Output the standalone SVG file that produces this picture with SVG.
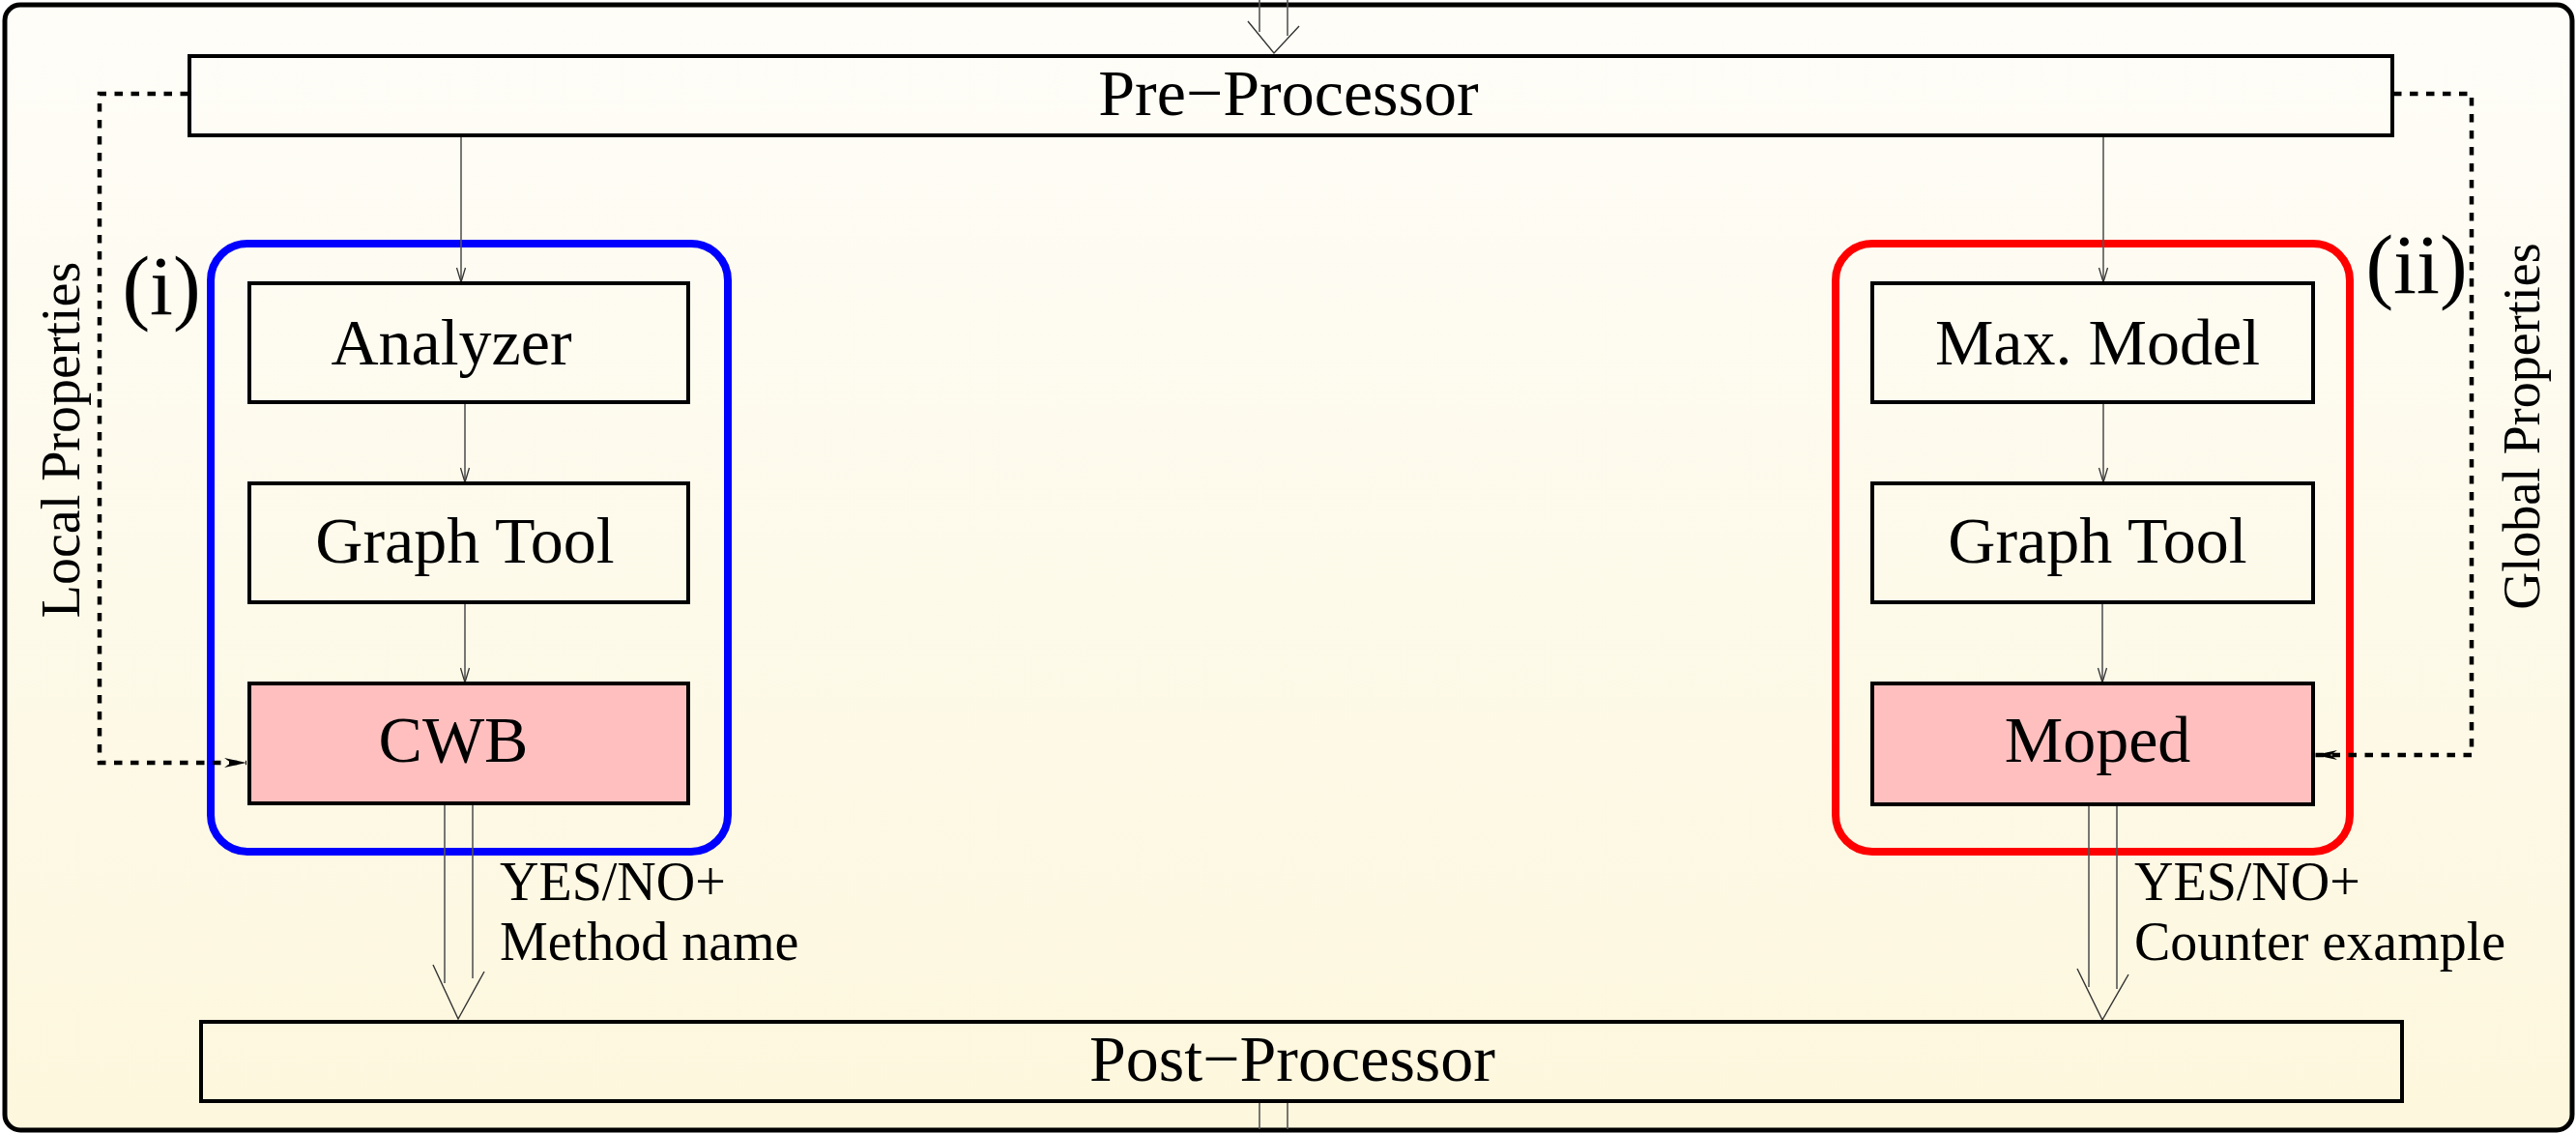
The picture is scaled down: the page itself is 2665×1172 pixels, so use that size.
<svg xmlns="http://www.w3.org/2000/svg" width="2665" height="1172" viewBox="0 0 2665 1172">
<style>
.box{fill:none;stroke:#000;stroke-width:4}
.hot{fill:#ffbfbf;stroke:#000;stroke-width:4}
.lbl{font-family:"Liberation Serif","Times New Roman",serif;fill:#000}
.thin{fill:none;stroke:#555;stroke-width:1.6}
.head{fill:none;stroke:#333;stroke-width:1.4}
.dash{fill:none;stroke:#000;stroke-width:4.5;stroke-dasharray:8.5 8.5}
</style>
<defs>
<linearGradient id="bg" x1="0" y1="0" x2="0" y2="1">
<stop offset="0" stop-color="#fefdf8"/>
<stop offset="1" stop-color="#fdf7dd"/>
</linearGradient>
<marker id="v" markerUnits="userSpaceOnUse" markerWidth="20" markerHeight="12" viewBox="-17 -6 19 12" refX="0" refY="0" orient="auto">
<path d="M-15,-4.5 L0,0 L-15,4.5" fill="none" stroke="#333" stroke-width="1.3"/>
</marker>
<marker id="fa" markerUnits="userSpaceOnUse" markerWidth="26" markerHeight="14" viewBox="-24 -7 26 14" refX="0" refY="0" orient="auto">
<path d="M0,0 L-23,-5 L-16,0 L-23,5 Z" fill="#000" stroke="none"/>
</marker>
</defs>

<rect id="frame" x="5" y="5" width="2656" height="1164" rx="16" fill="url(#bg)" stroke="#000" stroke-width="5"/>

<g id="group-i">
<rect x="218" y="252" width="535" height="629" rx="38" fill="none" stroke="#0000ff" stroke-width="8"/>
<text class="lbl" x="167" y="325" font-size="86" text-anchor="middle">(i)</text>
</g>
<g id="group-ii">
<rect x="1899" y="252" width="532" height="629" rx="38" fill="none" stroke="#ff0000" stroke-width="8"/>
<text class="lbl" x="2500" y="303" font-size="86" text-anchor="middle">(ii)</text>
</g>

<g id="connectors">
<line class="thin" x1="1303" y1="0" x2="1303" y2="33"/>
<line class="thin" x1="1332" y1="0" x2="1332" y2="37"/>
<path class="head" d="M1291,22 L1318,55 L1344,27"/>
<line class="thin" x1="1303" y1="1140" x2="1303" y2="1168"/>
<line class="thin" x1="1332" y1="1140" x2="1332" y2="1168"/>
<line class="thin" x1="477" y1="141" x2="477" y2="292" marker-end="url(#v)"/>
<line class="thin" x1="481" y1="417" x2="481" y2="499" marker-end="url(#v)"/>
<line class="thin" x1="481" y1="624" x2="481" y2="706" marker-end="url(#v)"/>
<line class="thin" x1="2176" y1="141" x2="2176" y2="292" marker-end="url(#v)"/>
<line class="thin" x1="2176" y1="417" x2="2176" y2="499" marker-end="url(#v)"/>
<line class="thin" x1="2175" y1="624" x2="2175" y2="706" marker-end="url(#v)"/>
<line class="thin" x1="460" y1="832" x2="460" y2="1017"/>
<line class="thin" x1="489" y1="832" x2="489" y2="1012"/>
<path class="head" d="M448,998 L474,1054 L501,1005"/>
<line class="thin" x1="2161" y1="833" x2="2161" y2="1021"/>
<line class="thin" x1="2190" y1="833" x2="2190" y2="1023"/>
<path class="head" d="M2149,1002 L2175,1055 L2202,1008"/>
<path class="dash" d="M195,97 L103,97 L103,789 L255,789" marker-end="url(#fa)"/>
<path class="dash" d="M2476,97 L2557,97 L2557,781 L2395,781" marker-end="url(#fa)"/>
<text class="lbl" font-size="56" text-anchor="middle" transform="translate(82,455) rotate(-90)">Local Properties</text>
<text class="lbl" font-size="54" text-anchor="middle" transform="translate(2627,441) rotate(-90)">Global Properties</text>
<text class="lbl" font-size="56" x="517" y="931">YES/NO+</text>
<text class="lbl" font-size="56" x="517" y="993">Method name</text>
<text class="lbl" font-size="56" x="2208" y="931">YES/NO+</text>
<text class="lbl" font-size="56" x="2208" y="993">Counter example</text>
</g>

<g id="pre-processor">
<rect class="box" x="196" y="58" width="2279" height="82"/>
<text class="lbl" x="1333" y="119" font-size="68" text-anchor="middle">Pre−Processor</text>
</g>
<g id="post-processor">
<rect class="box" x="208" y="1057" width="2277" height="82"/>
<text class="lbl" x="1337" y="1118" font-size="68" text-anchor="middle">Post−Processor</text>
</g>

<g id="analyzer">
<rect class="box" x="258" y="293" width="454" height="123"/>
<text class="lbl" x="467" y="377" font-size="68" text-anchor="middle">Analyzer</text>
</g>
<g id="graph-tool-left">
<rect class="box" x="258" y="500" width="454" height="123"/>
<text class="lbl" x="481" y="582" font-size="68" text-anchor="middle">Graph Tool</text>
</g>
<g id="cwb">
<rect class="hot" x="258" y="707" width="454" height="124"/>
<text class="lbl" x="469" y="788" font-size="68" text-anchor="middle">CWB</text>
</g>

<g id="max-model">
<rect class="box" x="1937" y="293" width="456" height="123"/>
<text class="lbl" x="2170" y="377" font-size="68" text-anchor="middle">Max. Model</text>
</g>
<g id="graph-tool-right">
<rect class="box" x="1937" y="500" width="456" height="123"/>
<text class="lbl" x="2170" y="582" font-size="68" text-anchor="middle">Graph Tool</text>
</g>
<g id="moped">
<rect class="hot" x="1937" y="707" width="456" height="125"/>
<text class="lbl" x="2170" y="788" font-size="68" text-anchor="middle">Moped</text>
</g>
</svg>
